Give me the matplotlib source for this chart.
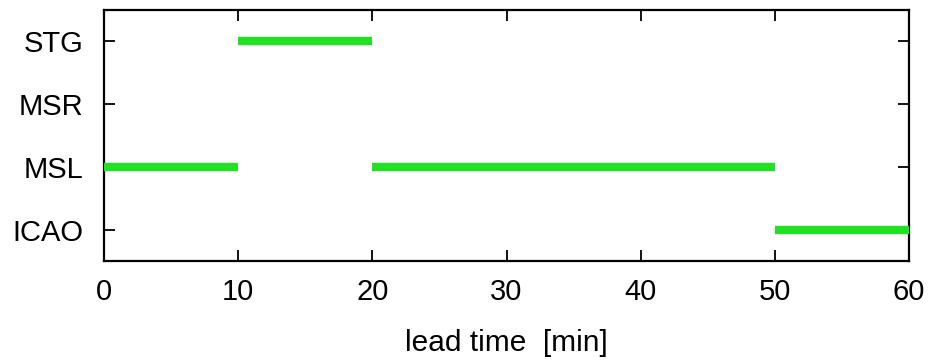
import matplotlib
matplotlib.use('Agg')
import matplotlib.pyplot as plt

plt.rcParams['font.family'] = ['Liberation Sans', 'DejaVu Sans']

# categories from bottom to top
categories = ['ICAO', 'MSL', 'MSR', 'STG']
# best method segments: (category, start, end) in minutes
seg_cat = ['STG', 'MSL', 'MSL', 'ICAO']
seg_start = [10, 0, 20, 50]
seg_end = [20, 10, 50, 60]
xticks = [0, 10, 20, 30, 40, 50, 60]

fig = plt.figure(figsize=(9.35, 3.6), dpi=100)
ax = fig.add_axes([104 / 935, 1 - 261 / 360, 805 / 935, 251 / 360])

ypos = {c: i for i, c in enumerate(categories)}
ax.hlines([ypos[c] for c in seg_cat], seg_start, seg_end,
          color='#22e022', linewidth=6, capstyle='butt', zorder=3)

ax.set_xlim(0, 60)
ax.set_ylim(-0.5, len(categories) - 0.5)
ax.set_xticks(xticks)
ax.set_yticks(range(len(categories)))
ax.set_yticklabels(categories)
ax.tick_params(direction='in', top=True, right=True, length=8, width=1.3,
               labelsize=21, pad=12)
ax.tick_params(axis='y', pad=15)
for s in ax.spines.values():
    s.set_linewidth(1.6)
ax.set_xlabel('lead time  [min]', fontsize=21.5, labelpad=17)

plt.savefig('out.png', dpi=100)
